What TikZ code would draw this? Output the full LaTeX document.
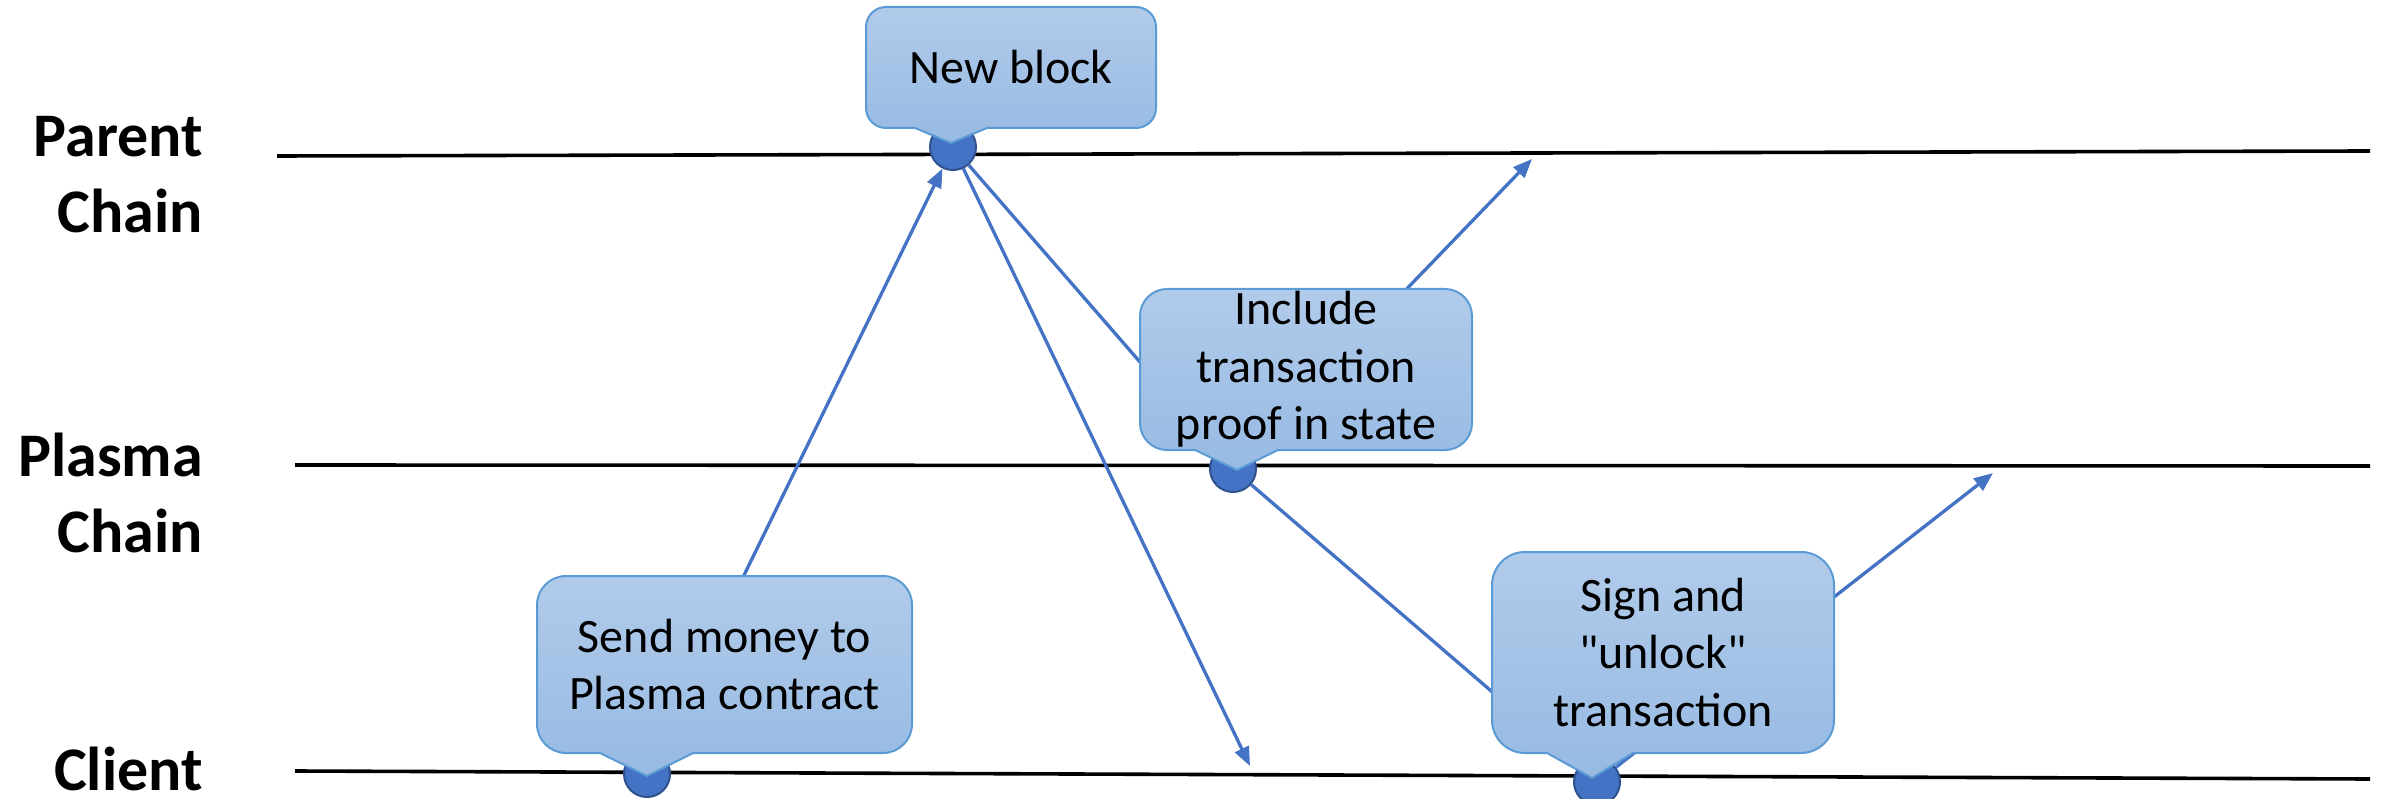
\documentclass[tikz,border=0pt]{standalone}
\usepackage{fontspec}
\setmainfont{Carlito}
\usetikzlibrary{arrows.meta,calc}
\definecolor{lineblue}{HTML}{4472C4}
\definecolor{dotedge}{HTML}{2F528F}
\definecolor{ctop}{HTML}{B1CBEA}
\definecolor{cbot}{HTML}{97BAE3}
\definecolor{cedge}{HTML}{5B9BD5}
\tikzset{
  chainline/.style={line width=3.6pt, black},
  dotnode/.style={circle, fill=lineblue, draw=dotedge, line width=2pt, minimum size=46pt, inner sep=0pt},
  arr/.style={line width=3.3pt, draw=lineblue, -{Triangle[length=19pt,width=15pt]}},
  cbox/.style={draw=cedge, line width=2pt, top color=ctop, bottom color=cbot},
  ctext/.style={align=center, font=\fontsize{48}{57.5}\selectfont, inner sep=0pt, text=black},
  lbl/.style={align=right, font=\fontsize{62}{76}\selectfont\bfseries, inner sep=0pt, anchor=base east},
}
% #1 L, #2 R, #3 T, #4 B, #5 r, #6 p1, #7 p2, #8 tip x, #9 tip y
\newcommand{\calloutpath}[9]{%
  \draw[cbox] (#1+#5,-#3) -- (#2-#5,-#3)
    arc[start angle=90,end angle=0,radius=#5pt] -- (#2,-#4+#5)
    arc[start angle=0,end angle=-90,radius=#5pt] -- (#7,-#4) -- (#8,-#9) -- (#6,-#4)
    -- (#1+#5,-#4)
    arc[start angle=270,end angle=180,radius=#5pt] -- (#1,-#3-#5)
    arc[start angle=180,end angle=90,radius=#5pt] -- cycle;}
\begin{document}
\begin{tikzpicture}[x=1pt,y=1pt]
\useasboundingbox (0,0) rectangle (2387,-799);
\fill[white] (0,0) rectangle (2387,-799);

% left labels (base anchor = baseline of the last line)
\node[lbl] (lparent) at (203,-233) {Parent\\Chain};
\node[lbl] (lplasma) at (203,-552) {Plasma\\Chain};
\node[lbl] (lclient) at (203,-790) {Client};

% chain lines
\coordinate (pa) at (277,-156);
\coordinate (pb) at (2370,-151);
\coordinate (qa) at (295,-465);
\coordinate (qb) at (2370,-466);
\coordinate (ca) at (295,-771);
\coordinate (cb) at (2370,-779);
\draw[chainline] (pa) -- (pb);
\draw[chainline] (qa) -- (qb);
\draw[chainline] (ca) -- (cb);

% dots
\node[dotnode] (top) at (953,-147) {};
\node[dotnode] (pd) at (1233,-469) {};
\node[dotnode] (cd1) at (647,-774) {};
\node[dotnode] (cd2) at (1597,-782) {};

% free ends
\coordinate (e1) at (1250,-766);
\coordinate (e2) at (1532,-159);
\coordinate (e3) at (1993,-473);

% arrows
\draw[arr] (cd1) -- (top);
\draw[arr] (top) -- (e1);
\draw[arr] (top) -- (pd);
\draw[arr] (pd) -- (e2);
\draw[arr] (pd) -- (cd2);
\draw[arr] (cd2) -- (e3);

% callouts
\calloutpath{866}{1156}{7}{128}{20}{915}{987}{951}{143}
\node[ctext] (nb) at (1011,-67.5) {New block};

\calloutpath{1140}{1472}{289}{450}{27}{1195}{1278}{1237}{470}
\node[ctext] (inc) at (1306,-369.5) {Include\\transaction\\proof in state};

\calloutpath{537}{912}{576}{753}{29}{600}{693}{647}{776}
\node[ctext] (send) at (724.5,-664.5) {Send money to\\Plasma contract};

\calloutpath{1492}{1834}{552}{753}{33}{1547}{1633}{1592}{778}
\node[ctext] (sign) at (1663,-652.5) {Sign and\\\textquotedbl unlock\textquotedbl\\transaction};
\end{tikzpicture}
\end{document}
